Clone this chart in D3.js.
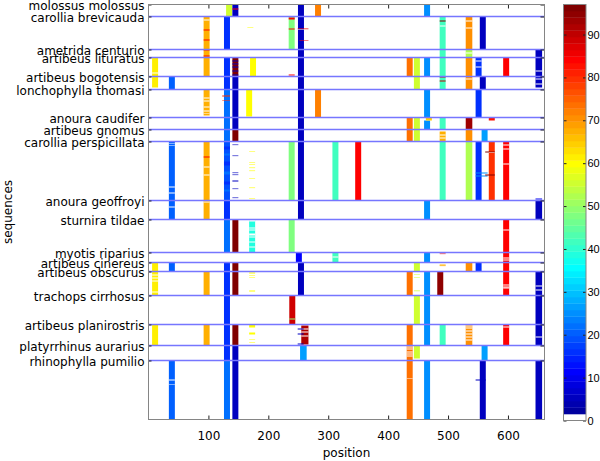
<!DOCTYPE html>
<html><head><meta charset="utf-8">
<script src="https://cdn.jsdelivr.net/npm/d3@7"></script>
<style>
body{margin:0;background:#fff}
svg{display:block}
text{font-family:"DejaVu Sans",sans-serif;font-size:12px;fill:#000}
.cbl text{font-family:"Liberation Sans",Arial,sans-serif;font-size:11px}
</style>
</head><body><svg id="c" width="600" height="461"></svg>
<script>
const groupNames = ["molossus molossus","carollia brevicauda","ametrida centurio","artibeus lituratus",
  "artibeus bogotensis","lonchophylla thomasi","anoura caudifer","artibeus gnomus","carollia perspicillata",
  "anoura geoffroyi","sturnira tildae","myotis riparius","artibeus cinereus","artibeus obscurus",
  "trachops cirrhosus","artibeus planirostris","platyrrhinus aurarius","rhinophylla pumilio"];
const groupSizes = [12,33,8,19,13,28,12,12,59,19,33,10,9,24,29,21,15,59];
const positionTicks = [100,200,300,400,500,600];
const colorTicks = [0,10,20,30,40,50,60,70,80,90];
const positionMax = 661;
const colorMax = 97;

// [group, startPos, endPos, value]  (whole group)
const bands = [
  [3,6,16,61],[12,6,16,61],[13,6,16,61],[15,6,16,61],
  [4,34,44,20.5],[8,34,44,20.5],[9,34,44,20.5],[12,34,44,20.5],[17,34,44,20.5],
  [1,92,102,67.5],[2,92,102,67.5],[3,92,102,67.5],[8,92,102,67.5],[9,92,102,67.5],[13,92,102,67.5],[15,92,102,67.5],
  [1,126,136,16],[3,126,136,16],[4,126,136,16],[9,126,136,16],[12,126,136,16],[13,126,136,16],[14,126,136,16],[15,126,136,16],[16,126,136,16],
  [5,126,136,22],[6,126,136,22],[7,126,136,22],[10,126,136,22],[17,126,136,22],[8,126,136,19],
  [0,129.5,139.5,55],
  [0,140,150,5],[3,140,150,96],[4,140,150,5],[5,140,150,5],[6,140,150,5],[7,140,150,96],[10,140,150,96],
  [12,140,150,96],[13,140,150,96],[15,140,150,96],[16,140,150,5],[17,140,150,5],
  [3,169.5,179.5,60],[10,168,178,38],
  [1,234,244,48],[8,234,244,48],[10,234,244,48],[14,235,245,89],
  [0,249.5,259.5,5],[1,249.5,259.5,5],[2,249.5,259.5,5],[3,249.5,259.5,5],[4,249.5,259.5,5],[5,249.5,259.5,5],
  [6,249.5,259.5,5],[7,249.5,259.5,5],[8,249.5,259.5,5],[9,249.5,259.5,5],[12,249.5,259.5,5],[13,249.5,259.5,5],
  [11,246,256,11.5],[16,253,264,26.5],
  [0,278,288,72.5],[5,278,288,72.5],
  [8,307,317,42],[11,307,317,42],
  [8,345,355,84],
  [3,431,441,74],[6,431,441,74],[7,431,441,74],[13,431,441,74],[15,431,441,74],[16,431,441,74],[17,431,441,74],
  [3,443,453,55],[4,443,453,55],[6,443,453,55],[7,443,453,55],[12,443,453,55],[14,443,453,55],
  [0,460,470,25.5],[3,460,470,25.5],[5,460,470,25.5],[9,460,470,25.5],[11,460,470,25.5],[13,460,470,25.5],
  [14,460,470,25.5],[15,460,470,25.5],[17,460,470,25.5],
  [1,486,496,42],[2,486,496,42],[3,486,496,42],[4,486,496,42],[6,486,496,42],[8,486,496,42],[15,486,496,42],[13,482,492,95],
  [1,529.5,540.5,70.5],[2,529.5,540.5,52],[3,529.5,540.5,70.5],[4,529.5,540.5,70.5],[6,529.5,540.5,93.5],
  [7,529.5,540.5,70.5],[8,529.5,540.5,52],[12,529.5,540.5,70.5],[15,529.5,540.5,70.5],
  [1,553,563,6],[4,553,563,6],[17,553,563,6],
  [3,546,556,16],[5,546,556,16],[8,546,556,16],[12,546,556,16],
  [7,556,566,26.5],[16,556,566,26.5],
  [8,568,578,79.5],
  [3,592,602,84],[8,592,602,84],[10,592,602,84],[11,592,602,84],[12,592,602,84],[13,592,602,84],[15,592,602,84],
  [2,646,657,6],[3,646,657,6],[9,646,657,6],[13,646,657,6],[14,646,657,6],[15,646,657,6],[17,646,657,6]
];

// [group, startPos, endPos, value, firstRow, rowCount]  (rows inside a group)
const stripes = [
  [4,6,16,61,0,11],[3,6,16,0,15,1],[13,6,16,0,3,1],[13,6,16,0,6,1],[13,6,16,0,9,1],[13,6,16,0,20,1],
  [8,34,44,0,45,1],[8,34,44,0,51,1],[8,34,44,0,2,0.5],[8,34,44,0,4,0.5],[9,34,44,0,6,1],[17,34,44,0,19,1],[17,34,44,0,24,0.5],
  [5,92,102,67.5,0,26],
  [1,92,102,84,13,1],[1,92,102,84,23,1],[2,92,102,84,0,1],[2,92,102,84,6,1],[8,92,102,84,15,1],[1,92,102,0,3,1],
  [5,92,102,0,8,1],[5,92,102,0,11,1],[5,92,102,0,17,1],[5,92,102,0,21,1],[5,92,102,0,24,0.5],
  [8,92,102,0,25,1],[8,92,102,0,33,1],[9,92,102,0,1,1],
  [5,123,136,80,6,1],[5,123,136,80,11,0.5],
  [8,126,136,16,5,3],[8,126,136,22,12,2],[8,126,136,16,20,4],[8,126,136,22,30,3],[8,126,136,16,40,3],[8,126,136,22,48,2],
  [0,140,150,84,4,1],
  [3,140,150,5,3,1],[3,140,150,5,6,1],[3,140,150,5,9,1],[3,140,150,5,13,1],[3,140,150,5,17,1],
  [8,140,150,5,3,0.6],[8,140,150,5,14,0.6],[8,140,150,5,31,0.6],[8,140,150,5,33,0.6],[8,140,150,5,39,1],[8,140,150,5,47,0.6],[8,140,150,5,56,0.6],
  [5,163,173,60,0,27],
  [1,165,175,60,11,0.5],
  [8,168,178,60,10,0.5],[8,168,178,60,21,0.5],[8,168,178,60,23,0.5],[8,168,178,60,26,0.6],[8,168,178,60,29,0.6],
  [8,168,178,60,37,0.5],[8,168,178,60,46,0.6],[8,168,178,60,57,0.5],
  [10,168,178,0,0,2],[10,168,178,0,8,1],[10,168,178,0,10,1],[10,168,178,0,14,2],[10,168,178,0,17,1],[10,168,178,0,22,1],[10,168,178,0,27,1],
  [13,168,178,60,1,1],[13,168,178,60,4,0.5],[13,168,178,60,6,0.5],[13,168,178,60,19,1],
  [15,168,178,60,0,3],[15,168,178,60,8,2],[15,168,178,60,15,0.5],[15,168,178,60,18,0.5],
  [1,234,244,84,1,2],[1,234,244,84,12,1],[3,234,244,84,17,1],[14,235,245,50,23,1],
  [1,249,267,84,12,0.7],[1,249.5,259.5,0,13,0.5],[1,252,267,84,24,0.5],
  [15,255,267,91,1,19],[15,255,267,0,4,1],[15,255,267,0,7,1],[15,255,267,0,11,1],
  [15,249,259,5,4,1],[15,249,259,5,9,1],[15,249,259,5,19,1],
  [11,307,317,0,4,1],
  [16,431,441,0,1,1],[16,431,441,0,3,1],[16,431,441,0,6,1],[16,431,441,0,8,1],[16,431,441,0,10,1],[17,431,441,0,18,0.5],
  [16,443,453,55,0,13],[13,443,453,55,3,0.5],[13,443,453,55,6,0.5],[13,443,453,55,19,0.7],
  [6,460,470,25.5,3,9],[6,463,473,64,0,3],
  [1,486,496,96,4,1],[1,486,496,0,9,1],[4,486,496,90,0,1],[4,486,496,90,4,1],
  [7,486,496,67.5,2,10],[7,486,496,0,5,1],[7,486,496,0,8,1],
  [11,486,496,85,1,0.6],[12,486,496,68,2,1],[12,486,496,68,3,0.6],
  [1,529.5,540.5,0,4,1],[1,529.5,540.5,0,11,1],[2,529.5,540.5,0,3,1],[4,529.5,540.5,0,2,1],
  [15,529.5,540.5,0,1,1],[15,529.5,540.5,0,3,1],[15,529.5,540.5,0,6,1],[15,529.5,540.5,0,9,1],[15,529.5,540.5,0,12,1],[15,529.5,540.5,0,15,1],
  [3,546,556,0,3,1],[3,546,556,0,9,1],[8,546,566,25,31,1],[8,546,566,25,34,1],[17,546,563,6,19,1],
  [6,568,578,82,0,3],[8,562,578,96,10,1],[8,562,578,96,33,1],[8,568,578,0,11,0.5],
  [8,592,602,0,3,1],[8,592,602,0,7,1],[8,592,602,0,22,1],[10,592,602,0,10,1],[11,592,602,0,5,1],[11,592,602,0,7,1],
  [13,592,602,0,13,1],[13,592,602,0,15,1],[13,592,602,0,16,1],[15,592,602,0,2,1],
  [4,646,657,6,0,11],[3,646,657,0,13,1],[4,646,657,0,2,1],[4,646,657,0,7,1],
  [13,646,657,0,14,1],[13,646,657,0,18,1],[15,646,657,0,12,1],[8,646,657,10,57,1]
];

// ---- jet(64) colormap with white as lowest entry (MATLAB style)
function jetColors(n){
  const m = Math.ceil(n/4);
  const u = [];
  for(let i=1;i<=m;i++) u.push(i/m);
  for(let i=1;i<m;i++) u.push(1);
  for(let i=m;i>=1;i--) u.push(i/m);
  const g0 = Math.ceil(m/2) - (n%4===1?1:0);
  const J = Array.from({length:n},()=>[0,0,0]);
  u.forEach((val,k)=>{
    const g = g0 + k + 1, r = g + m, b = g - m;
    if(r>=1 && r<=n) J[r-1][0]=val;
    if(g>=1 && g<=n) J[g-1][1]=val;
    if(b>=1 && b<=n) J[b-1][2]=val;
  });
  return J.map(c=>d3.rgb(c[0]*255,c[1]*255,c[2]*255).formatHex());
}
const cmap = jetColors(64);
cmap[0] = "#ffffff";

const svg = d3.select("#c");
const L = 148.5, R = 544.5, T = 4.5, B = 419.5;
const totalRows = d3.sum(groupSizes);
const groupStart = [];
groupSizes.reduce((acc,s,i)=>{groupStart[i]=acc;return acc+s;},0);

const x = d3.scaleLinear().domain([0,positionMax]).range([L,R]);
const y = d3.scaleLinear().domain([0,totalRows]).range([T,B]);
const color = d3.scaleQuantize().domain([0,colorMax]).range(cmap);

svg.append("rect").attr("x",0).attr("y",0).attr("width",600).attr("height",461).attr("fill","#fff");

const plot = svg.append("g");
function drawCell(d){
  const g=d[0], p0=d[1], p1=d[2], v=d[3];
  const r0 = d.length>4 ? groupStart[g]+d[4] : groupStart[g];
  const r1 = d.length>4 ? r0 + d[5] : groupStart[g]+groupSizes[g];
  plot.append("rect")
    .attr("x",x(p0)).attr("width",x(p1)-x(p0))
    .attr("y",y(r0)).attr("height",y(r1)-y(r0))
    .attr("fill",color(v));
}
bands.forEach(drawCell);
stripes.forEach(drawCell);

// group separators
svg.append("g").selectAll("line").data(groupStart.slice(1)).join("line")
  .attr("x1",L).attr("x2",R).attr("y1",d=>y(d)).attr("y2",d=>y(d))
  .attr("stroke","#7676ff").attr("stroke-width",1.6);

// axes
const ax = svg.append("g").attr("transform",`translate(0,${B})`)
  .call(d3.axisBottom(x).tickValues(positionTicks).tickSizeInner(-4).tickSizeOuter(0).tickPadding(12).tickFormat(d3.format("d")));
const axT = svg.append("g").attr("transform",`translate(0,${T})`)
  .call(d3.axisTop(x).tickValues(positionTicks).tickSizeInner(-4).tickSizeOuter(0).tickFormat(""));
const axL = svg.append("g").attr("transform",`translate(${L},0)`)
  .call(d3.axisLeft(y).tickValues(groupStart).tickSizeInner(-3).tickSizeOuter(0).tickPadding(4).tickFormat((d,i)=>groupNames[i]));
const axR = svg.append("g").attr("transform",`translate(${R},0)`)
  .call(d3.axisRight(y).tickValues(groupStart).tickSizeInner(-4).tickSizeOuter(0).tickFormat(""));
[ax,axT,axL,axR].forEach(a=>{
  a.select(".domain").remove();
  a.selectAll(".tick line").attr("stroke","#222").attr("stroke-width",1);
  a.selectAll("text").attr("font-family",null).attr("font-size",null).attr("fill","#000");
});
axL.selectAll("text").attr("dy","0.44em");
ax.selectAll("text").attr("dy","0.71em");

svg.append("rect").attr("x",L).attr("y",T).attr("width",R-L).attr("height",B-T)
  .attr("fill","none").attr("stroke","#858585").attr("stroke-width",1);

svg.append("text").attr("x",(L+R)/2).attr("y",456.5).attr("text-anchor","middle").text("position");
svg.append("text").attr("transform",`translate(11.5,${(T+B)/2}) rotate(-90)`).attr("text-anchor","middle").text("sequences");

// colorbar
const CL = 563.5, CR = 586, CT = 4.5, CB = 420.5;
const yc = d3.scaleLinear().domain([0,colorMax]).range([CB,CT]);
const step = colorMax/cmap.length;
svg.append("g").selectAll("rect").data(cmap).join("rect")
  .attr("x",CL).attr("width",CR-CL)
  .attr("y",(c,i)=>yc((i+1)*step)).attr("height",(c,i)=>yc(i*step)-yc((i+1)*step)+0.3)
  .attr("fill",c=>c);
const cbR = svg.append("g").attr("class","cbl").attr("transform",`translate(${CR},0)`)
  .call(d3.axisRight(yc).tickValues(colorTicks).tickSizeInner(-3).tickSizeOuter(0).tickPadding(1.5).tickFormat(d3.format("d")));
const cbL = svg.append("g").attr("transform",`translate(${CL},0)`)
  .call(d3.axisLeft(yc).tickValues(colorTicks).tickSizeInner(-3).tickSizeOuter(0).tickFormat(""));
[cbR,cbL].forEach(a=>{
  a.select(".domain").remove();
  a.selectAll(".tick line").attr("stroke","#222");
  a.selectAll("text").attr("font-family",null).attr("font-size",null).attr("fill","#000");
});
svg.append("rect").attr("x",CL).attr("y",CT).attr("width",CR-CL).attr("height",CB-CT)
  .attr("fill","none").attr("stroke","#858585").attr("stroke-width",1);
</script></body></html>
